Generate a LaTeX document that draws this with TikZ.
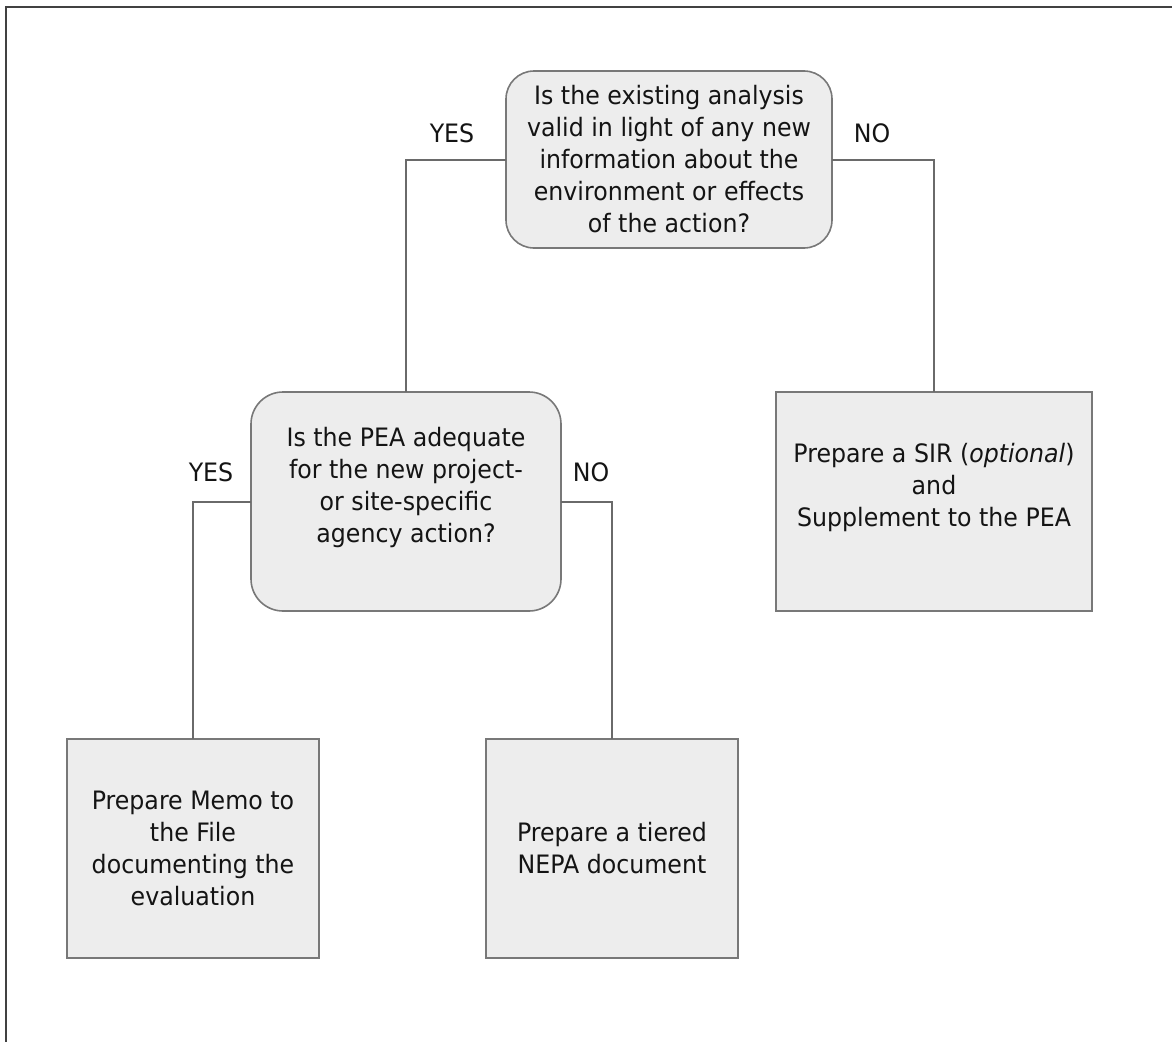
\documentclass[tikz,border=0pt]{standalone}
\usepackage{fontspec}
\setmainfont{DejaVu Sans}[FakeStretch=0.935]
\definecolor{boxfill}{HTML}{EDEDED}
\definecolor{boxline}{HTML}{787878}
\definecolor{conn}{HTML}{6A6A6A}
\definecolor{frame}{HTML}{414141}
\definecolor{txt}{HTML}{141414}
\begin{document}
\begin{tikzpicture}[x=0.75pt,y=-0.75pt,
  every node/.style={inner sep=0pt,outer sep=0pt,text=txt,font=\fontsize{19pt}{24pt}\selectfont},
  decision/.style={draw=boxline,fill=boxfill,line width=1.2pt,rounded corners=#1},
  decision/.default=22pt,
  action/.style={draw=boxline,fill=boxfill,line width=1.2pt,minimum height=164.25pt},
  txtblock/.style={align=center},
  link/.style={draw=conn,line width=1.5pt},
  answer/.style={}]
\useasboundingbox (0,0) rectangle (1172,1042);
\draw[frame,line width=1.6pt] (6,1042) -- (6,7) -- (1172,7);

% boxes
\node[decision=21pt,minimum width=244.5pt,minimum height=132.75pt,txtblock] (q1) at (669,159.5)
  {Is the existing analysis\\valid in light of any new\\information about the\\environment or effects\\of the action?};
\node[decision=24pt,minimum width=232.5pt,minimum height=164.25pt] (q2) at (406,501.5) {};
\node[txtblock] (q2t) at (406,487.5)
  {Is the PEA adequate\\for the new project-\\or site-specific\\agency action?};
\node[action,minimum width=237pt] (sir) at (934,501.5) {};
\node[txtblock] (sirt) at (934,487.5)
  {Prepare a SIR (\textit{optional})\\and\\Supplement to the PEA};
\node[action,minimum width=189pt,txtblock] (memo) at (193,848.5)
  {Prepare Memo to\\the File\\documenting the\\evaluation};
\node[action,minimum width=189pt,txtblock] (tier) at (612,848.5)
  {Prepare a tiered\\NEPA document};

% connectors
\draw[link] (q1.west) -| (q2.north);
\draw[link] (q1.east) -| (sir.north);
\draw[link] (q2.west) -| (memo.north);
\draw[link] (q2.east) -| (tier.north);

% answer labels
\node[answer] (y1) at (452,133) {YES};
\node[answer] (n1) at (872,133) {NO};
\node[answer] (y2) at (211,472) {YES};
\node[answer] (n2) at (591,472) {NO};
\end{tikzpicture}
\end{document}
